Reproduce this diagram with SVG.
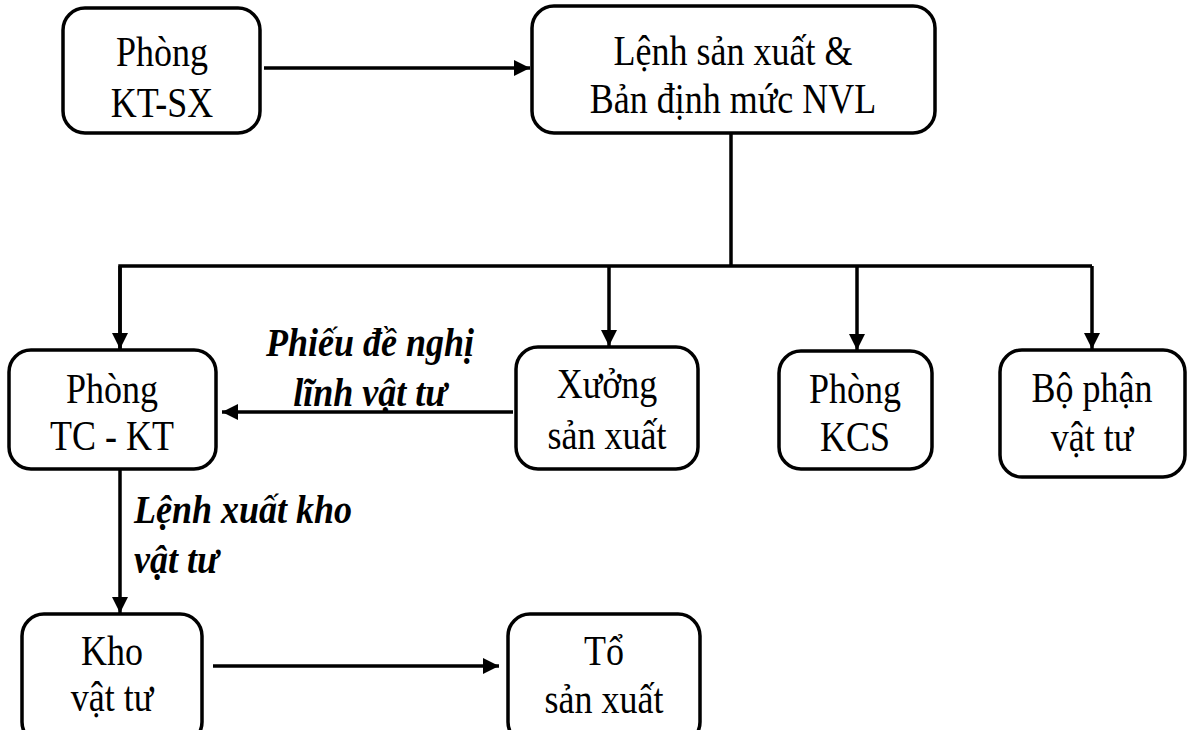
<svg xmlns="http://www.w3.org/2000/svg" width="1191" height="730" viewBox="0 0 1191 730">
<style>
.box{fill:#fff;stroke:#000;stroke-width:3.5}
.t{font-family:"Liberation Serif","Times New Roman",serif;font-size:36px;fill:#000;text-anchor:middle}
.lbl{font-family:"Liberation Serif","Times New Roman",serif;font-size:36px;font-weight:bold;font-style:italic;fill:#000}
.c{fill:none;stroke:#000;stroke-width:3.5}
</style>
<defs>
<marker id="ah" markerUnits="userSpaceOnUse" markerWidth="18" markerHeight="18" refX="16" refY="8" orient="auto">
<path d="M0,0 L16,8 L0,16 z" fill="#000"/>
</marker>
</defs>
<rect width="1191" height="730" fill="#fff"/>
<g id="connectors">
<line class="c" x1="264" y1="68" x2="530" y2="68" marker-end="url(#ah)"/>
<line class="c" x1="731" y1="133" x2="731" y2="266"/>
<polyline class="c" points="120,350 120,266 1092,266"/>
<line class="c" x1="120" y1="266" x2="120" y2="349" marker-end="url(#ah)"/>
<line class="c" x1="609" y1="266" x2="609" y2="346" marker-end="url(#ah)"/>
<line class="c" x1="857" y1="266" x2="857" y2="350" marker-end="url(#ah)"/>
<line class="c" x1="1092" y1="266" x2="1092" y2="349" marker-end="url(#ah)"/>
<line class="c" x1="513" y1="412" x2="222" y2="412" marker-end="url(#ah)"/>
<line class="c" x1="120" y1="469" x2="120" y2="613" marker-end="url(#ah)"/>
<line class="c" x1="213" y1="666" x2="499" y2="666" marker-end="url(#ah)"/>
<text class="lbl" text-anchor="middle" transform="translate(370,356) scale(1,1.1)">Phiếu đề nghị</text>
<text class="lbl" text-anchor="middle" transform="translate(370,406) scale(1,1.1)">lĩnh vật tư</text>
<text class="lbl" transform="translate(134,523) scale(1,1.1)">Lệnh xuất kho</text>
<text class="lbl" transform="translate(134,573) scale(1,1.1)">vật tư</text>
</g>
<g id="node-ktsx">
<rect class="box" x="63" y="8" width="197" height="125" rx="22"/>
<text class="t" transform="translate(162,66) scale(1,1.18)">Phòng</text>
<text class="t" transform="translate(162,117) scale(1,1.18)">KT-SX</text>
</g>
<g id="node-lenh">
<rect class="box" x="532" y="6" width="403" height="127" rx="22"/>
<text class="t" transform="translate(733,65) scale(1,1.18)">Lệnh sản xuất &amp;</text>
<text class="t" transform="translate(733,113) scale(1,1.18)">Bản định mức NVL</text>
</g>
<g id="node-tckt">
<rect class="box" x="9" y="350" width="207" height="119" rx="22"/>
<text class="t" transform="translate(112,403) scale(1,1.18)">Phòng</text>
<text class="t" transform="translate(112,450) scale(1,1.18)">TC - KT</text>
</g>
<g id="node-xuong">
<rect class="box" x="516" y="347" width="182" height="122" rx="22"/>
<text class="t" transform="translate(607,398) scale(1,1.18)">Xưởng</text>
<text class="t" transform="translate(607,449) scale(1,1.18)">sản xuất</text>
</g>
<g id="node-kcs">
<rect class="box" x="779" y="351" width="153" height="118" rx="22"/>
<text class="t" transform="translate(855,403) scale(1,1.18)">Phòng</text>
<text class="t" transform="translate(855,451) scale(1,1.18)">KCS</text>
</g>
<g id="node-bophan">
<rect class="box" x="1000" y="350" width="185" height="127" rx="22"/>
<text class="t" transform="translate(1092,402) scale(1,1.18)">Bộ phận</text>
<text class="t" transform="translate(1092,451) scale(1,1.18)">vật tư</text>
</g>
<g id="node-kho">
<rect class="box" x="22" y="614" width="180" height="130" rx="22"/>
<text class="t" transform="translate(112,665) scale(1,1.18)">Kho</text>
<text class="t" transform="translate(112,711) scale(1,1.18)">vật tư</text>
</g>
<g id="node-to">
<rect class="box" x="508" y="614" width="192" height="130" rx="22"/>
<text class="t" transform="translate(604,665) scale(1,1.18)">Tổ</text>
<text class="t" transform="translate(604,713) scale(1,1.18)">sản xuất</text>
</g>
</svg>
